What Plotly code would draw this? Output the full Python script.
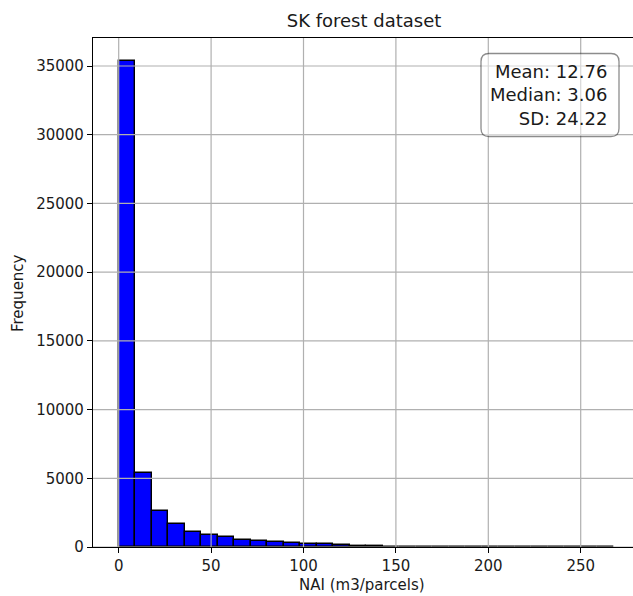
import numpy as np
import plotly.graph_objects as go

# ---- data ----
data_min = 0.0
data_max = 268.0
n_bins = 30
counts = [35330, 5370, 2650, 1680, 1100, 900, 730, 520, 420, 340,
          265, 200, 190, 110, 105, 100, 28, 22, 18, 15,
          12, 6, 5, 4, 3, 3, 2, 2, 1, 1]
x_ticks = [0, 50, 100, 150, 200, 250]
y_ticks = [0, 5000, 10000, 15000, 20000, 25000, 30000, 35000]
stats_lines = ["Mean: 12.76", "Median: 3.06", "SD: 24.22"]
title_text = "SK forest dataset"
x_label = "NAI (m3/parcels)"
y_label = "Frequency"

edges = np.linspace(data_min, data_max, n_bins + 1)
centers = (edges[:-1] + edges[1:]) / 2
widths = np.diff(edges)

W, H = 633, 596
L, R, T, B = 93, 633, 38, 547
PW, PH = R - L, B - T
FONT = "DejaVu Sans"
TXT = "#1a1a1a"

def px_x(px):
    return (px - L) / PW

def px_y(py):
    return (B - py) / PH

fig = go.Figure()
fig.add_trace(go.Bar(
    x=centers, y=counts, width=widths,
    marker=dict(color="#0000ff", line=dict(color="black", width=1.4)),
    showlegend=False, hoverinfo="skip",
))

shapes = []
for v in x_ticks:
    shapes.append(dict(type="line", xref="x", yref="paper", x0=v, x1=v, y0=0, y1=1,
                       line=dict(color="#b0b0b0", width=1.2), layer="above"))
for v in y_ticks:
    shapes.append(dict(type="line", xref="paper", yref="y", x0=0, x1=1, y0=v, y1=v,
                       line=dict(color="#b0b0b0", width=1.2), layer="above"))

# rounded stats box
bx0, bx1, by0, by1, rad = 481, 619, 53.5, 136.5, 8
def P(x, y):
    return f"{px_x(x):.5f},{px_y(y):.5f}"
path = (f"M {P(bx0 + rad, by0)} L {P(bx1 - rad, by0)} Q {P(bx1, by0)} {P(bx1, by0 + rad)} "
        f"L {P(bx1, by1 - rad)} Q {P(bx1, by1)} {P(bx1 - rad, by1)} "
        f"L {P(bx0 + rad, by1)} Q {P(bx0, by1)} {P(bx0, by1 - rad)} "
        f"L {P(bx0, by0 + rad)} Q {P(bx0, by0)} {P(bx0 + rad, by0)} Z")
shapes.append(dict(type="path", xref="paper", yref="paper", path=path,
                   fillcolor="rgba(255,255,255,0.5)",
                   line=dict(color="rgba(0,0,0,0.45)", width=1.3), layer="above"))

annotations = [
    dict(text="<br>".join(stats_lines), xref="paper", yref="paper",
         x=px_x(609), y=px_y(95), xanchor="right", yanchor="middle",
         align="right", showarrow=False, font=dict(family=FONT, size=18, color=TXT)),
    dict(text=x_label, xref="paper", yref="paper", x=px_x(362), y=px_y(585),
         xanchor="center", yanchor="middle", showarrow=False,
         font=dict(family=FONT, size=15, color=TXT)),
    dict(text=y_label, xref="paper", yref="paper", x=px_x(18), y=px_y(293),
         xanchor="center", yanchor="middle", textangle=-90, showarrow=False,
         font=dict(family=FONT, size=15, color=TXT)),
]

x_px_per_unit = 1.848
y_px_per_unit = (547 - 66) / 35000.0

fig.update_layout(
    width=W, height=H, autosize=False,
    margin=dict(l=L, r=W - R, t=T, b=H - B, pad=0),
    paper_bgcolor="white", plot_bgcolor="white",
    bargap=0,
    title=dict(text=title_text, x=px_x(364), xref="paper", xanchor="center",
               y=1 - 21 / H, yref="container", yanchor="middle",
               font=dict(family=FONT, size=18, color=TXT)),
    shapes=shapes, annotations=annotations,
    font=dict(family=FONT, color=TXT),
)
fig.update_xaxes(
    range=[(L - 118.7) / x_px_per_unit, (R - 118.7) / x_px_per_unit],
    tickvals=x_ticks, ticks="outside", ticklen=5, tickwidth=1.2, tickcolor="black",
    showgrid=False, zeroline=False, showline=True, linecolor="black", linewidth=1.2,
    mirror=True, tickfont=dict(family=FONT, size=15, color=TXT),
)
fig.update_yaxes(
    range=[0, (B - T) / y_px_per_unit],
    tickvals=y_ticks, tickformat="d", ticks="outside", ticklen=5, tickwidth=1.2,
    tickcolor="black", showgrid=False, zeroline=False, showline=True,
    linecolor="black", linewidth=1.2, mirror=True,
    tickfont=dict(family=FONT, size=15, color=TXT),
)

fig.write_html("out.html")
